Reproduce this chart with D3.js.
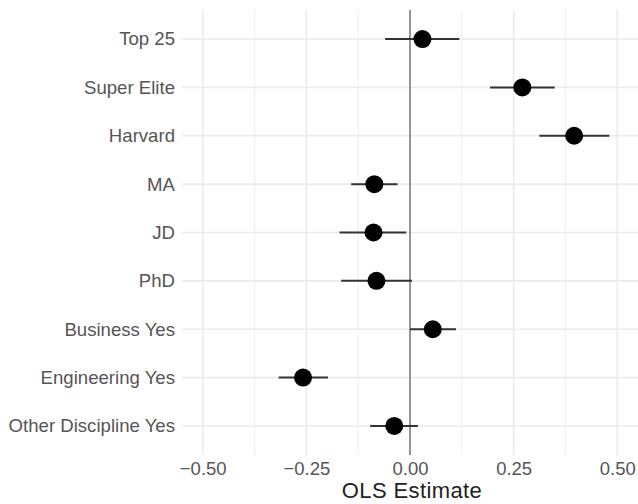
<!DOCTYPE html>
<html>
<head>
<meta charset="utf-8">
<script src="https://cdn.jsdelivr.net/npm/d3@7"></script>
<style>
  html, body { margin: 0; padding: 0; background: #ffffff; }
  svg { display: block; }
  text { font-family: "Liberation Sans", Arial, Helvetica, sans-serif; }
</style>
</head>
<body>
<svg id="chart" width="638" height="504"></svg>
<script>
// Coefficient terms, top to bottom
const terms = ["Top 25", "Super Elite", "Harvard", "MA", "JD", "PhD",
               "Business Yes", "Engineering Yes", "Other Discipline Yes"];
// Point estimates and confidence bounds
const estimates = [0.030, 0.271, 0.396, -0.086, -0.088, -0.081, 0.055, -0.258, -0.038];
const lowerCI   = [-0.060, 0.193, 0.312, -0.142, -0.170, -0.166, 0.000, -0.317, -0.096];
const upperCI   = [0.119, 0.349, 0.481, -0.030, -0.009, 0.005, 0.111, -0.198, 0.019];
// Axis breaks
const majorTicks = [-0.5, -0.25, 0, 0.25, 0.5];
const minorTicks = [-0.375, -0.125, 0.125, 0.375];
const xTitle = "OLS Estimate";

const rows = terms.map((t, i) => ({ term: t, est: estimates[i], lo: lowerCI[i], hi: upperCI[i] }));

const svg = d3.select("#chart");
const panel = { left: 182, right: 638, top: 10, bottom: 455 };

const x = d3.scaleLinear().domain([-0.55, 0.55]).range([panel.left, panel.right]);
const y = d3.scalePoint().domain(terms).range([panel.top, panel.bottom]).padding(0.6);

const grid = svg.append("g");
// minor vertical gridlines
grid.selectAll("line.minor").data(minorTicks).join("line")
  .attr("x1", d => x(d)).attr("x2", d => x(d))
  .attr("y1", panel.top).attr("y2", panel.bottom)
  .attr("stroke", "#f0f0f0").attr("stroke-width", 1.2);
// major vertical gridlines
grid.selectAll("line.majorx").data(majorTicks).join("line")
  .attr("x1", d => x(d)).attr("x2", d => x(d))
  .attr("y1", panel.top).attr("y2", panel.bottom)
  .attr("stroke", "#ebebeb").attr("stroke-width", 1.6);
// horizontal gridlines at each term
grid.selectAll("line.majory").data(terms).join("line")
  .attr("x1", panel.left).attr("x2", panel.right)
  .attr("y1", d => y(d)).attr("y2", d => y(d))
  .attr("stroke", "#ebebeb").attr("stroke-width", 1.6);

// reference line at zero
svg.append("line")
  .attr("x1", x(0)).attr("x2", x(0))
  .attr("y1", panel.top).attr("y2", panel.bottom)
  .attr("stroke", "#7f7f7f").attr("stroke-width", 1.6);

// x axis labels
const xAxis = d3.axisBottom(x).tickValues(majorTicks).tickSize(0).tickPadding(7)
  .tickFormat(d => d3.format(".2f")(d).replace("-", "\u2212"));
const gx = svg.append("g").attr("transform", `translate(0,${panel.bottom})`).call(xAxis);
gx.select(".domain").remove();
gx.selectAll("text").attr("fill", "#555555").style("font-size", "18.5px");

// y axis labels
const yAxis = d3.axisLeft(y).tickSize(0).tickPadding(7);
const gy = svg.append("g").attr("transform", `translate(${panel.left},0)`).call(yAxis);
gy.select(".domain").remove();
gy.selectAll("text").attr("fill", "#555555").style("font-size", "18.6px");

// confidence intervals
svg.append("g").selectAll("line").data(rows).join("line")
  .attr("x1", d => x(d.lo)).attr("x2", d => x(d.hi))
  .attr("y1", d => y(d.term)).attr("y2", d => y(d.term))
  .attr("stroke", "#333333").attr("stroke-width", 2);

// point estimates
svg.append("g").selectAll("circle").data(rows).join("circle")
  .attr("cx", d => x(d.est)).attr("cy", d => y(d.term))
  .attr("r", 9).attr("fill", "#000000");

// x axis title
svg.append("text")
  .attr("x", (panel.left + panel.right) / 2 + 2).attr("y", 498)
  .attr("text-anchor", "middle")
  .attr("fill", "#222222")
  .style("font-size", "22px")
  .style("letter-spacing", "0.4px")
  .text(xTitle);
</script>
</body>
</html>
